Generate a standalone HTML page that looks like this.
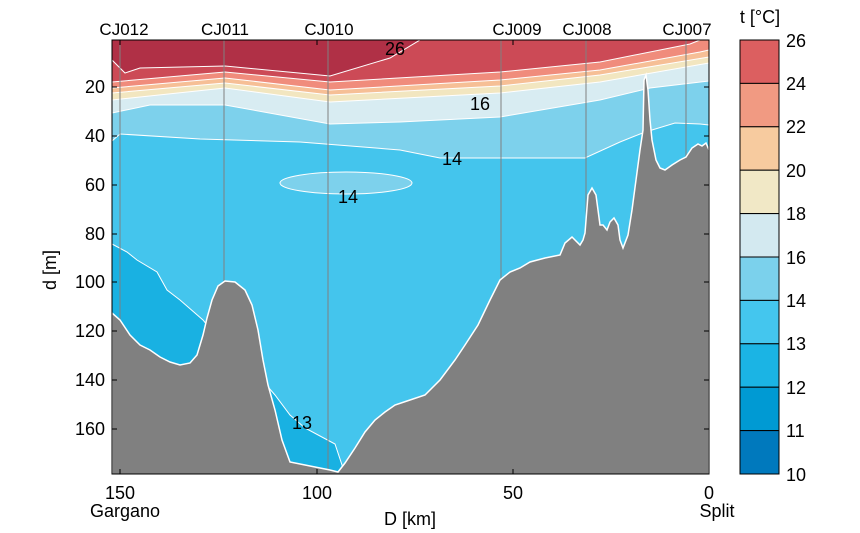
<!DOCTYPE html>
<html><head><meta charset="utf-8"><style>
body{margin:0;background:#fff;}
svg{display:block;font-family:"Liberation Sans",Arial,sans-serif;}
</style></head><body>
<svg width="860" height="533" viewBox="0 0 860 533" xmlns="http://www.w3.org/2000/svg">
<defs><clipPath id="c"><rect x="112" y="40" width="597" height="434"/></clipPath></defs>
<g clip-path="url(#c)">
<rect x="112" y="40" width="597" height="434" fill="#44c5ed"/>
<polygon fill="#19b1e2" stroke="#fff" stroke-width="1" points="112,244 127,252 137,260 157,272 167,290 180,300 203,320 215,335 215,474 112,474"/>
<polygon fill="#19b1e2" stroke="#fff" stroke-width="1" points="262,380 275,395 290,415 305,428 320,436 335,444 345,474 262,474"/>
<polygon fill="#7dd1ec" stroke="#fff" stroke-width="1" points="112,141 120,134 200,139 300,142 400,150 440,158 585,158 620,142 640,134 652,130 675,123 700,124 709,125 709,40 112,40"/>
<ellipse cx="346" cy="183" rx="66" ry="11" fill="#7dd1ec" stroke="#fff" stroke-width="1"/>
<polygon fill="#d8ecf2" stroke="#fff" stroke-width="1" points="112,113 150,105 225,105 330,124 400,122 500,117 600,100 650,88 709,81 709,40 112,40"/>
<polygon fill="#f2e6c0" stroke="#fff" stroke-width="1" points="112,100 225,88 330,102 500,93 600,82 709,63 709,40 112,40"/>
<polygon fill="#f6bf96" stroke="#fff" stroke-width="1" points="112,93 225,83 330,95 500,86 600,75 709,57 709,40 112,40"/>
<polygon fill="#f08c7c" stroke="#fff" stroke-width="1" points="112,88 225,78 330,90 500,80 600,70 700,52 709,50 709,40 112,40"/>
<polygon fill="#cc4a56" stroke="#fff" stroke-width="1" points="112,82 225,72 330,82 500,72 600,62 690,44 700,40 112,40"/>
<polygon fill="#b03046" stroke="#fff" stroke-width="1" points="112,60 125,73 140,68 225,66 330,76 390,58 420,40 112,40"/>
<g stroke="#808080" stroke-width="1">
<line x1="120" y1="40" x2="120" y2="320"/><line x1="224" y1="40" x2="224" y2="285"/>
<line x1="328" y1="40" x2="328" y2="470"/><line x1="501" y1="40" x2="501" y2="285"/>
<line x1="586" y1="40" x2="586" y2="240"/><line x1="686" y1="40" x2="686" y2="160"/>
</g>
<polygon fill="#808080" stroke="#fff" stroke-width="1.5" points="112,313 120,320 130,335 140,345 150,350 160,357 170,362 180,365 190,363 197,355 203,335 207,318 212,300 218,286 225,281 235,282 245,290 252,305 258,330 263,360 268,385 275,410 282,440 290,462 310,466 330,470 338,472 345,463 355,448 365,432 375,420 385,412 395,405 410,400 425,395 440,380 455,360 465,345 478,325 490,300 500,280 510,272 520,268 530,262 545,258 560,255 565,243 572,237 580,245 583,240 585,233 588,195 592,188 596,195 600,225 603,225 607,230 610,222 614,218 618,225 620,240 623,248 628,235 632,210 640,150 643,130 644,80 646,75 648,90 650,120 652,140 656,160 660,168 665,170 672,165 680,160 686,157 692,148 698,144 702,146 706,143 709,150 709,480 112,480"/>
</g>
<rect x="112" y="40" width="597" height="434" fill="none" stroke="#000" stroke-width="1"/>
<g font-size="18" fill="#000">
<text x="395" y="55" text-anchor="middle">26</text>
<text x="480" y="110" text-anchor="middle">16</text>
<text x="452" y="165" text-anchor="middle">14</text>
<text x="348" y="203" text-anchor="middle">14</text>
<text x="302" y="429" text-anchor="middle">13</text>
</g>
<g font-size="17" text-anchor="middle">
<text x="124" y="35">CJ012</text><text x="225" y="35">CJ011</text><text x="329" y="35">CJ010</text>
<text x="517" y="35">CJ009</text><text x="587" y="35">CJ008</text><text x="687" y="35">CJ007</text>
</g>
<g stroke="#000" stroke-width="1">
<line x1="112" y1="87" x2="117" y2="87"/><line x1="112" y1="136" x2="117" y2="136"/><line x1="112" y1="185" x2="117" y2="185"/><line x1="112" y1="234" x2="117" y2="234"/><line x1="112" y1="282" x2="117" y2="282"/><line x1="112" y1="331" x2="117" y2="331"/><line x1="112" y1="380" x2="117" y2="380"/><line x1="112" y1="429" x2="117" y2="429"/>
<line x1="709" y1="87" x2="704" y2="87"/><line x1="709" y1="136" x2="704" y2="136"/><line x1="709" y1="185" x2="704" y2="185"/><line x1="709" y1="234" x2="704" y2="234"/><line x1="709" y1="282" x2="704" y2="282"/><line x1="709" y1="331" x2="704" y2="331"/><line x1="709" y1="380" x2="704" y2="380"/><line x1="709" y1="429" x2="704" y2="429"/>
<line x1="120" y1="474" x2="120" y2="469"/><line x1="317" y1="474" x2="317" y2="469"/><line x1="513" y1="474" x2="513" y2="469"/>
<line x1="120" y1="40" x2="120" y2="45"/><line x1="317" y1="40" x2="317" y2="45"/><line x1="513" y1="40" x2="513" y2="45"/>
</g>
<g font-size="18" text-anchor="end">
<text x="105" y="93">20</text><text x="105" y="142">40</text><text x="105" y="191">60</text><text x="105" y="240">80</text><text x="105" y="288">100</text><text x="105" y="337">120</text><text x="105" y="386">140</text><text x="105" y="435">160</text>
</g>
<g font-size="18" text-anchor="middle">
<text x="120" y="499">150</text><text x="317" y="499">100</text><text x="513" y="499">50</text><text x="709" y="499">0</text>
<text x="125" y="517">Gargano</text><text x="717" y="517">Split</text>
<text x="410" y="525">D [km]</text>
<text x="760" y="23">t [°C]</text>
</g>
<text x="0" y="0" font-size="18" text-anchor="middle" transform="translate(56,270) rotate(-90)">d [m]</text>
<g stroke="#000" stroke-width="1">
<rect x="740" y="40" width="39" height="43.4" fill="#dc5f60"/>
<rect x="740" y="83.4" width="39" height="43.4" fill="#f19a82"/>
<rect x="740" y="126.8" width="39" height="43.4" fill="#f7cb9f"/>
<rect x="740" y="170.2" width="39" height="43.4" fill="#f1e8c6"/>
<rect x="740" y="213.6" width="39" height="43.4" fill="#d3e9f0"/>
<rect x="740" y="257" width="39" height="43.4" fill="#7bd1ec"/>
<rect x="740" y="300.4" width="39" height="43.4" fill="#44c6ee"/>
<rect x="740" y="343.8" width="39" height="43.4" fill="#1bb4e4"/>
<rect x="740" y="387.2" width="39" height="43.4" fill="#009ad3"/>
<rect x="740" y="430.6" width="39" height="43.4" fill="#0079bd"/>
</g>
<g font-size="18">
<text x="786" y="47">26</text><text x="786" y="90">24</text><text x="786" y="133">22</text><text x="786" y="177">20</text><text x="786" y="220">18</text><text x="786" y="264">16</text><text x="786" y="307">14</text><text x="786" y="350">13</text><text x="786" y="394">12</text><text x="786" y="437">11</text><text x="786" y="481">10</text>
</g>
</svg>
</body></html>
